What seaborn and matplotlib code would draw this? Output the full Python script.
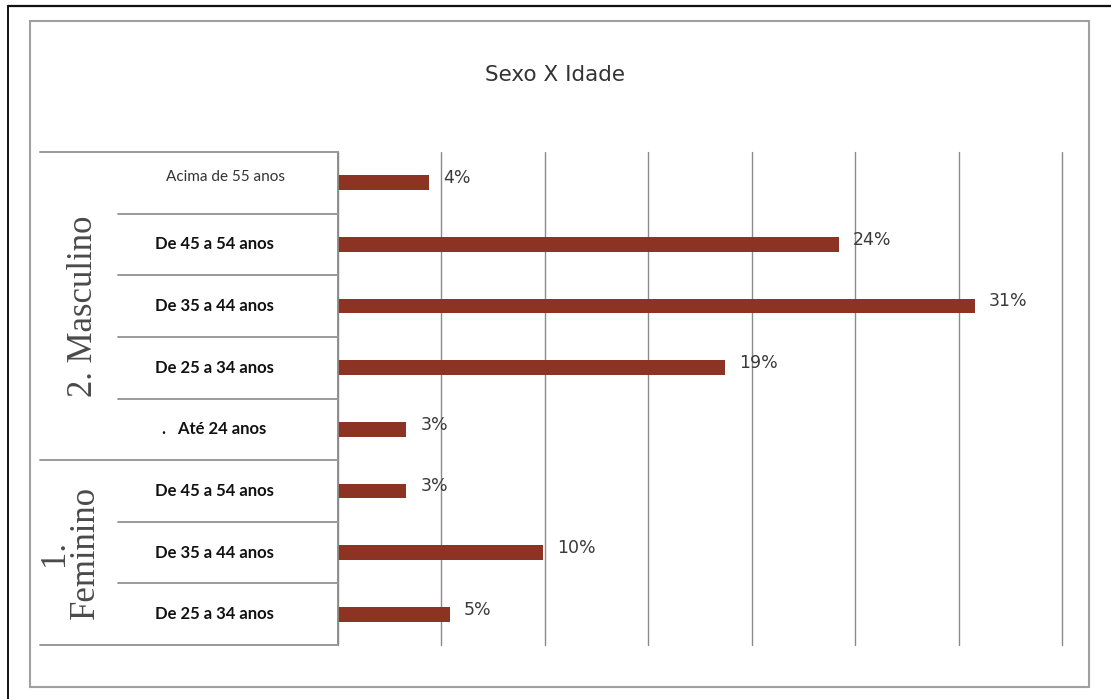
import matplotlib
matplotlib.use("Agg")
import matplotlib.pyplot as plt
import matplotlib.transforms as mtransforms
from matplotlib.lines import Line2D
from matplotlib.patches import Rectangle
import seaborn as sns
import pandas as pd

# ---------------- data ----------------
titulo = "Sexo X Idade"
sexo = ["Masculino", "Masculino", "Masculino", "Masculino", "Masculino",
        "Feminino", "Feminino", "Feminino"]
faixa = ["Acima de 55 anos", "De 45 a 54 anos", "De 35 a 44 anos", "De 25 a 34 anos",
         ".   Até 24 anos", "De 45 a 54 anos", "De 35 a 44 anos", "De 25 a 34 anos"]
valores = [4.4, 24.2, 30.8, 18.7, 3.3, 3.3, 9.9, 5.4]
rotulos = ["4%", "24%", "31%", "19%", "3%", "3%", "10%", "5%"]
grupos = {"Masculino": "2. Masculino", "Feminino": "1.\nFeminino"}
eixo_x = list(range(0, 36, 5))

df = pd.DataFrame({"sexo": sexo, "faixa": faixa, "valor": valores})
df["linha"] = [f"{s}|{i}" for i, s in enumerate(sexo)]

# ---------------- figure ----------------
sns.set_style("white")
W, H = 1111, 699
fig = plt.figure(figsize=(W / 100, H / 100), dpi=100)
fig.patch.set_facecolor("white")


def fx(px):
    return px / W


def fy(py):
    return 1 - py / H


ax = fig.add_axes([fx(338), fy(645), (1062 - 338) / W, (645 - 152) / H])

bar_color = "#8C3323"
sns.barplot(data=df, x="valor", y="linha", orient="h", color=bar_color,
            saturation=1, width=0.24, linewidth=0, edgecolor=bar_color, ax=ax)

n = len(df)
ax.set_xlim(0, 35)
ax.set_ylim(n - 0.5, -0.5)
ax.set_xticks(eixo_x)
ax.tick_params(left=False, bottom=False, labelleft=False, labelbottom=False)
ax.set_xlabel("")
ax.set_ylabel("")
ax.grid(axis="x", color="#8a8a8a", linewidth=1.0)
ax.grid(axis="y", visible=False)
for gl in ax.xaxis.get_gridlines():
    gl.set_clip_on(False)
ax.set_axisbelow(True)
for s in ["top", "right", "bottom"]:
    ax.spines[s].set_visible(False)
ax.spines["left"].set_color("#8a8a8a")
ax.spines["left"].set_linewidth(1.3)

# value labels
for i, (v, lab) in enumerate(zip(valores, rotulos)):
    ax.text(v + 0.68, i - 0.075, lab, ha="left", va="center",
            fontsize=12.5, color="#3a3a3a", family="DejaVu Sans")

# ---------------- category table on the left ----------------
trans = mtransforms.blended_transform_factory(fig.transFigure, ax.transData)
line_kw = dict(color="#9a9a9a", linewidth=1.4, transform=trans)
for k in range(n + 1):
    yb = k - 0.5
    if k == 0 or k == n or sexo[k] != sexo[k - 1]:
        x0 = fx(40)
    else:
        x0 = fx(118)
    fig.add_artist(Line2D([x0, fx(338)], [yb, yb], **line_kw))

for i, f in enumerate(faixa):
    if f.startswith("Acima"):
        ax.text(fx(226), i - 0.1, f, transform=trans, ha="center", va="center",
                fontsize=11, color="#333333", family="Lato")
    else:
        ax.text(fx(214), i, f, transform=trans, ha="center", va="center",
                fontsize=12, color="#111111", family="Lato", fontweight="bold")

grupo_x = {"Masculino": 83, "Feminino": 70}
for g, lab in grupos.items():
    idx = [i for i, s in enumerate(sexo) if s == g]
    yc = sum(idx) / len(idx)
    ax.text(fx(grupo_x[g]), yc, lab, transform=trans, rotation=90,
            ha="center", va="center", multialignment="center",
            fontsize=25, color="#4a4a4a", family="Liberation Serif",
            linespacing=0.95)

# ---------------- title and frames ----------------
fig.text(fx(555), fy(75), titulo, ha="center", va="center",
         fontsize=15.5, color="#333333", family="DejaVu Sans")

fig.add_artist(Rectangle((fx(30), fy(687)), (1089 - 30) / W, (687 - 21) / H,
                         transform=fig.transFigure, fill=False,
                         edgecolor="#a0a0a0", linewidth=1.5))
fig.add_artist(Line2D([fx(8), 1.0], [fy(6), fy(6)], color="#111111",
                      linewidth=1.6, transform=fig.transFigure))
fig.add_artist(Line2D([fx(8), fx(8)], [fy(6), 0.0], color="#111111",
                      linewidth=1.4, transform=fig.transFigure))

fig.savefig("out.png", dpi=100, facecolor="white")
